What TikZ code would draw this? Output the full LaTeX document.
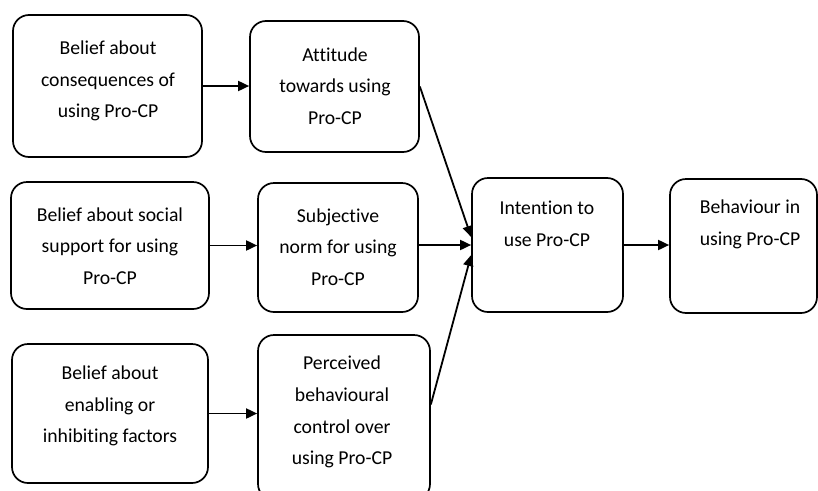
\documentclass[tikz,border=0pt]{standalone}
\usepackage{fontspec}
\setmainfont[Ligatures={NoCommon}]{Carlito}
\usetikzlibrary{arrows.meta,calc}
\begin{document}
\begin{tikzpicture}[x=1pt,y=-1pt,
  box/.style={draw,line width=1.7pt,rounded corners=16pt,inner sep=0pt},
  txt/.style={align=center,font=\fontsize{19.7}{31.7}\selectfont,inner sep=0pt},
  arr/.style={line width=1.8pt,-{Triangle[length=11pt,width=10pt]}}]
\useasboundingbox (0,0) rectangle (818,490);
% boxes
\node[box,minimum width=189pt,minimum height=142pt] (b1) at (107.5,86) {};
\node[box,minimum width=169pt,minimum height=131pt] (att) at (334.5,86.5) {};
\node[box,minimum width=198pt,minimum height=127pt] (b2) at (110,245.5) {};
\node[box,minimum width=160pt,minimum height=129pt] (sub) at (338,247.5) {};
\node[box,minimum width=196pt,minimum height=139pt] (b3) at (110,413.5) {};
\node[box,minimum width=172pt,minimum height=165pt] (per) at (344,417.5) {};
\node[box,minimum width=151pt,minimum height=134pt] (int) at (547.5,245) {};
\node[box,minimum width=147pt,minimum height=134pt] (beh) at (743.5,246) {};
% texts
\node[txt] (t1) at (108,81) {Belief about\\consequences of\\using Pro-CP};
\node[txt] (tatt) at (335,86) {Attitude\\towards using\\Pro-CP};
\node[txt] (t2) at (110,246) {Belief about social\\support for using\\Pro-CP};
\node[txt] (tsub) at (338,247) {Subjective\\norm for using\\Pro-CP};
\node[txt] (t3) at (110,406) {Belief about\\enabling or\\inhibiting factors};
\node[txt] (tper) at (342,412) {Perceived\\behavioural\\control over\\using Pro-CP};
\node[txt] (tint) at (547,224) {Intention to\\use Pro-CP};
\node[txt] (tbeh) at (750,224) {Behaviour in\\using Pro-CP};
% arrows
\draw[arr] (b1.east) -- (b1.east -| att.west);
\draw[arr] (b2.east) -- (b2.east -| sub.west);
\draw[arr] (b3.east) -- (b3.east -| per.west);
\draw[arr] (att.east) -- ($(int.west)+(0,-8)$);
\draw[arr] (sub.east |- int.west) -- (int.west);
\draw[arr] ($(per.east)+(0,-13)$) -- ($(int.west)+(0,10)$);
\draw[arr] (int.east) -- (int.east -| beh.west);
\end{tikzpicture}
\end{document}
